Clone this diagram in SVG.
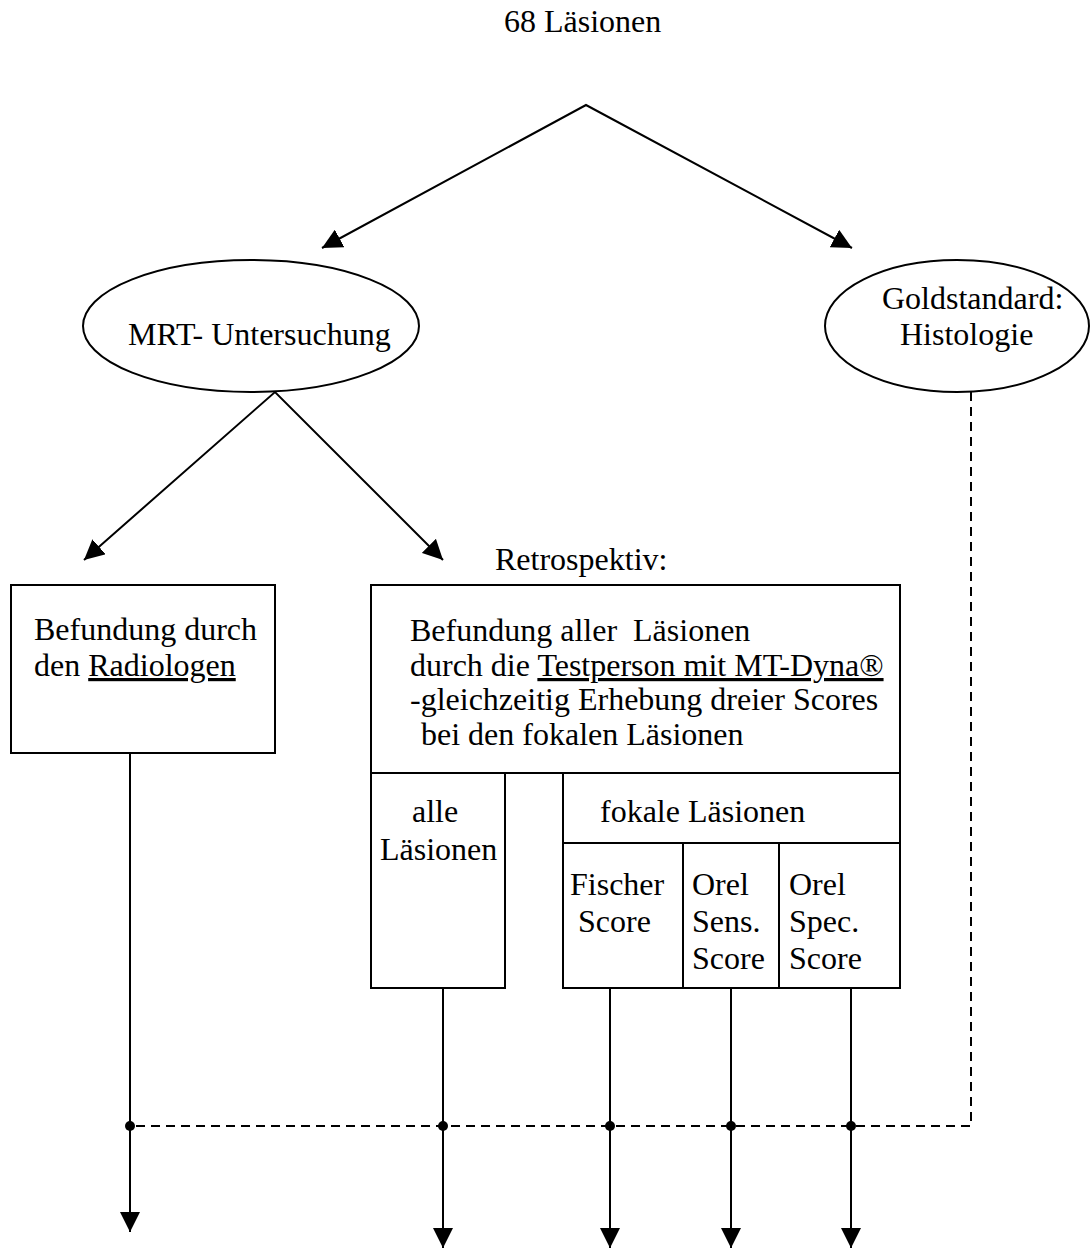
<svg xmlns="http://www.w3.org/2000/svg" width="1090" height="1249" viewBox="0 0 1090 1249">
<defs>
<style>
text{font-family:"Liberation Serif","Times New Roman",serif;font-size:32px;fill:#000;white-space:pre}
.box{fill:#fff;stroke:#000;stroke-width:2}
.ln{fill:none;stroke:#000;stroke-width:2}
.dash{fill:none;stroke:#000;stroke-width:2;stroke-dasharray:9 6}
.dot{fill:#000}
.u{text-decoration:underline}
</style>
<marker id="ah" viewBox="0 0 10 10" refX="10" refY="5" markerUnits="userSpaceOnUse" markerWidth="20" markerHeight="20" orient="auto-start-reverse">
<path d="M0,0 L10,5 L0,10 z" fill="#000"/>
</marker>
</defs>
<rect width="1090" height="1249" fill="#fff"/>
<g id="title"><text x="504" y="32">68 Läsionen</text></g>
<g id="mrt">
<ellipse class="box" cx="251" cy="326" rx="168" ry="66"/>
<text x="128" y="345">MRT- Untersuchung</text>
</g>
<g id="gold">
<ellipse class="box" cx="957" cy="326" rx="132" ry="66"/>
<text x="882" y="309">Goldstandard:</text>
<text x="900" y="345">Histologie</text>
</g>
<g id="radiologe">
<rect class="box" x="11" y="585" width="264" height="168"/>
<text x="34" y="640">Befundung durch</text>
<text x="34" y="676">den <tspan class="u">Radiologen</tspan></text>
</g>
<g id="retro-label"><text x="495" y="570">Retrospektiv:</text></g>
<g id="testperson">
<rect class="box" x="371" y="585" width="529" height="188"/>
<text x="410" y="641" xml:space="preserve">Befundung aller  Läsionen</text>
<text x="410" y="676">durch die <tspan class="u">Testperson mit MT-Dyna®</tspan></text>
<text x="410" y="710">-gleichzeitig Erhebung dreier Scores</text>
<text x="421" y="745">bei den fokalen Läsionen</text>
</g>
<g id="alle">
<rect class="box" x="371" y="773" width="134" height="215"/>
<text x="412" y="822">alle</text>
<text x="380" y="860">Läsionen</text>
</g>
<g id="fokal">
<rect class="box" x="563" y="773" width="337" height="70"/>
<text x="600" y="822">fokale Läsionen</text>
</g>
<g id="fischer">
<rect class="box" x="563" y="843" width="120" height="145"/>
<text x="570" y="895">Fischer</text>
<text x="578" y="932">Score</text>
</g>
<g id="sens">
<rect class="box" x="683" y="843" width="96" height="145"/>
<text x="692" y="895">Orel</text>
<text x="692" y="932">Sens.</text>
<text x="692" y="969">Score</text>
</g>
<g id="spec">
<rect class="box" x="779" y="843" width="121" height="145"/>
<text x="789" y="895">Orel</text>
<text x="789" y="932">Spec.</text>
<text x="789" y="969">Score</text>
</g>
<g id="connectors">
<polyline class="ln" points="322,248 586,105 852,248" marker-start="url(#ah)" marker-end="url(#ah)"/>
<polyline class="ln" points="84,560 275,392 443,560" marker-start="url(#ah)" marker-end="url(#ah)"/>
<path class="dash" d="M971,392 V1126 H130"/>
<line class="ln" x1="130" y1="753" x2="130" y2="1232" marker-end="url(#ah)"/>
<line class="ln" x1="443" y1="988" x2="443" y2="1248" marker-end="url(#ah)"/>
<line class="ln" x1="610" y1="988" x2="610" y2="1248" marker-end="url(#ah)"/>
<line class="ln" x1="731" y1="988" x2="731" y2="1248" marker-end="url(#ah)"/>
<line class="ln" x1="851" y1="988" x2="851" y2="1248" marker-end="url(#ah)"/>
<circle class="dot" cx="130" cy="1126" r="5"/>
<circle class="dot" cx="443" cy="1126" r="5"/>
<circle class="dot" cx="610" cy="1126" r="5"/>
<circle class="dot" cx="731" cy="1126" r="5"/>
<circle class="dot" cx="851" cy="1126" r="5"/>
</g>
</svg>
